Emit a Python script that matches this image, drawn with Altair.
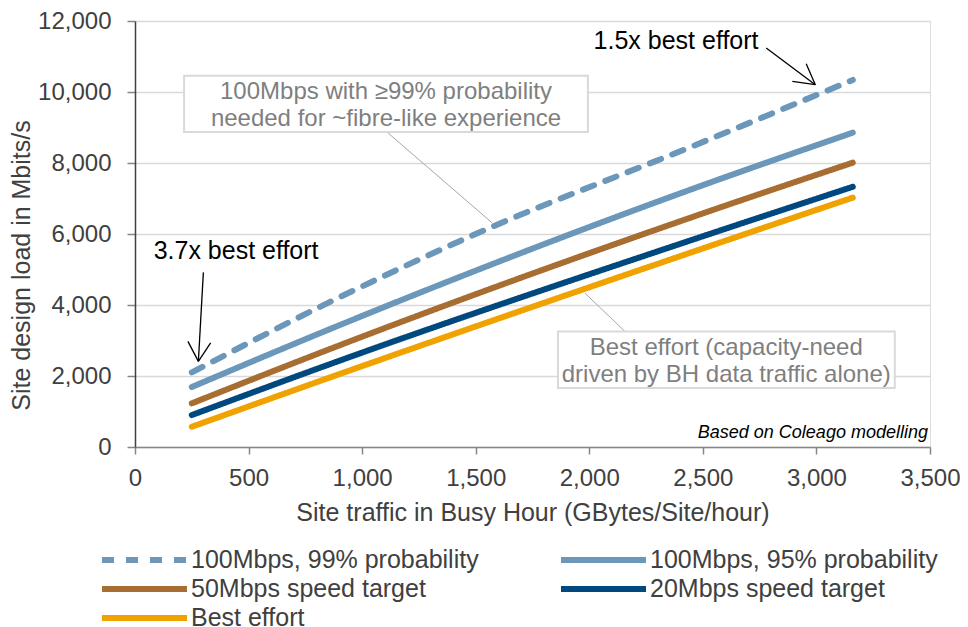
import altair as alt
import pandas as pd

# ---------------- data ----------------
series_names = [
    "100Mbps, 99% probability",
    "100Mbps, 95% probability",
    "50Mbps speed target",
    "20Mbps speed target",
    "Best effort",
]
series_colors = ["#6A97BA", "#6A97BA", "#A86D31", "#00497F", "#F0A200"]
series_dash = [[12, 12], [1, 0], [1, 0], [1, 0], [1, 0]]

x_99 = [250, 850, 1550, 2450, 3160]
y_99 = [2100, 4060, 6140, 8460, 10340]
x_std = [250, 850, 2450, 3160]
y_95 = [1690, 3300, 7260, 8855]
y_50 = [1230, 2740, 6470, 8010]
y_20 = [900, 2315, 5830, 7330]
y_best = [570, 1940, 5485, 7025]

x_ticks = [0, 500, 1000, 1500, 2000, 2500, 3000, 3500]
y_ticks = [0, 2000, 4000, 6000, 8000, 10000, 12000]

# annotations (data units)
note_text = ["1.5x best effort", "3.7x best effort"]
note_x = [2382, 445]
note_y = [11212, 5296]

arrow_x1 = [2779, 2995, 2995, 301, 279, 279]
arrow_y1 = [11240, 10206, 10206, 4918, 2411, 2411]
arrow_x2 = [2995, 2955, 2894, 279, 233, 333]
arrow_y2 = [10206, 10798, 10299, 2411, 2975, 2930]

box_x1 = [216, 1862]
box_x2 = [1994, 3345]
box_y1 = [8874, 1662]
box_y2 = [10459, 3256]

box_lines = [
    "100Mbps with \u226599% probability",
    "needed for ~fibre-like experience",
    "Best effort (capacity-need",
    "driven by BH data traffic alone)",
]
box_line_x = [1105, 1105, 2603, 2603]
box_line_y = [9803, 9031, 2600, 1831]

leader_x1 = [1106, 1980]
leader_y1 = [8890, 4338]
leader_x2 = [1573, 2157]
leader_y2 = [6310, 3256]

source_text = ["Based on Coleago modelling"]
source_x = [3491]
source_y = [262]

# ---------------- tables ----------------
rows = []
for xv, yv in zip(x_99, y_99):
    rows.append({"series": series_names[0], "traffic": xv, "load": yv})
for name, ys in zip(series_names[1:], [y_95, y_50, y_20, y_best]):
    for xv, yv in zip(x_std, ys):
        rows.append({"series": name, "traffic": xv, "load": yv})
df = pd.DataFrame(rows)

notes = pd.DataFrame({"text": note_text, "traffic": note_x, "load": note_y})
arrows = pd.DataFrame({"traffic": arrow_x1, "load": arrow_y1, "t2": arrow_x2, "l2": arrow_y2})
boxes = pd.DataFrame({"traffic": box_x1, "t2": box_x2, "load": box_y1, "l2": box_y2})
boxtext = pd.DataFrame({"text": box_lines, "traffic": box_line_x, "load": box_line_y})
leaders = pd.DataFrame({"traffic": leader_x1, "load": leader_y1, "t2": leader_x2, "l2": leader_y2})
source = pd.DataFrame({"text": source_text, "traffic": source_x, "load": source_y})

FONT = "Liberation Sans"
xscale = alt.Scale(domain=[0, 3500], nice=False, zero=False)
yscale = alt.Scale(domain=[0, 12000], nice=False)

xaxis = alt.Axis(
    values=x_ticks, format=",.0f", title="Site traffic in Busy Hour (GBytes/Site/hour)",
    grid=False, labelFontSize=24, labelColor="#404040", titleFontSize=25,
    titleColor="#404040", titleFontWeight="normal", domainColor="#868686",
    domainWidth=1.5, tickColor="#868686", tickWidth=1.5, tickSize=7,
    labelPadding=12, titlePadding=10, labelFlush=False, labelOverlap=False,
    labelFont=FONT, titleFont=FONT,
)
yaxis = alt.Axis(
    values=y_ticks, format=",.0f", title="Site design load in Mbits/s",
    grid=True, gridColor="#d9d9d9", gridWidth=1.5, labelFontSize=24,
    labelColor="#404040", titleFontSize=25, titleColor="#404040",
    titleFontWeight="normal", domainColor="#404040", domainWidth=1.5,
    tickColor="#868686", tickWidth=1.5, tickSize=8, labelPadding=16,
    titleX=-101, titleY=244, labelFont=FONT, titleFont=FONT,
)


def X(field="traffic"):
    return alt.X(f"{field}:Q", scale=xscale, axis=xaxis)


def Y(field="load"):
    return alt.Y(f"{field}:Q", scale=yscale, axis=yaxis)


legend = alt.Legend(
    title=None, orient="none", legendX=-36, legendY=527, columns=2,
    direction="horizontal",
    columnPadding=79, rowPadding=4, symbolType="stroke", symbolSize=7225,
    symbolStrokeWidth=6, labelFontSize=25, labelColor="#404040",
    labelOffset=1, clipHeight=24, labelLimit=400, labelFont=FONT,
    symbolOffset=0,
)

lines = alt.Chart(df).mark_line(strokeWidth=6, strokeCap="round", interpolate="monotone").encode(
    x=X(),
    y=Y(),
    color=alt.Color("series:N", sort=series_names,
                    scale=alt.Scale(domain=series_names, range=series_colors),
                    legend=legend),
    strokeDash=alt.StrokeDash("series:N", sort=series_names,
                              scale=alt.Scale(domain=series_names, range=series_dash),
                              legend=legend),
    order=alt.Order("traffic:Q"),
)

leader_layer = alt.Chart(leaders).mark_rule(color="#a6a6a6", strokeWidth=1).encode(
    x=X(), y=Y(), x2="t2:Q", y2="l2:Q"
)

box_layer = alt.Chart(boxes).mark_rect(fill="white", stroke="#d9d9d9", strokeWidth=2).encode(
    x=X(), y=Y(), x2="t2:Q", y2="l2:Q"
)

boxtext_layer = alt.Chart(boxtext).mark_text(
    font=FONT, fontSize=24, color="#7f7f7f", align="center", baseline="alphabetic"
).encode(x=X(), y=Y(), text="text:N")

arrow_layer = alt.Chart(arrows).mark_rule(color="black", strokeWidth=1.3).encode(
    x=X(), y=Y(), x2="t2:Q", y2="l2:Q"
)

note_layer = alt.Chart(notes).mark_text(
    font=FONT, fontSize=25, color="black", align="center", baseline="alphabetic"
).encode(x=X(), y=Y(), text="text:N")

source_layer = alt.Chart(source).mark_text(
    font=FONT, fontSize=18, fontStyle="italic", color="black", align="right",
    baseline="alphabetic"
).encode(x=X(), y=Y(), text="text:N")

chart = alt.layer(
    leader_layer, box_layer, boxtext_layer, lines, arrow_layer, note_layer, source_layer
).properties(
    width=795, height=426,
    autosize=alt.AutoSizeParams(type="none"),
    padding={"left": 127, "top": 13, "right": 30, "bottom": 180},
).configure_view(stroke=None).configure(font=FONT)

chart.save("out.html", embed_options={"renderer": "svg", "actions": False})
